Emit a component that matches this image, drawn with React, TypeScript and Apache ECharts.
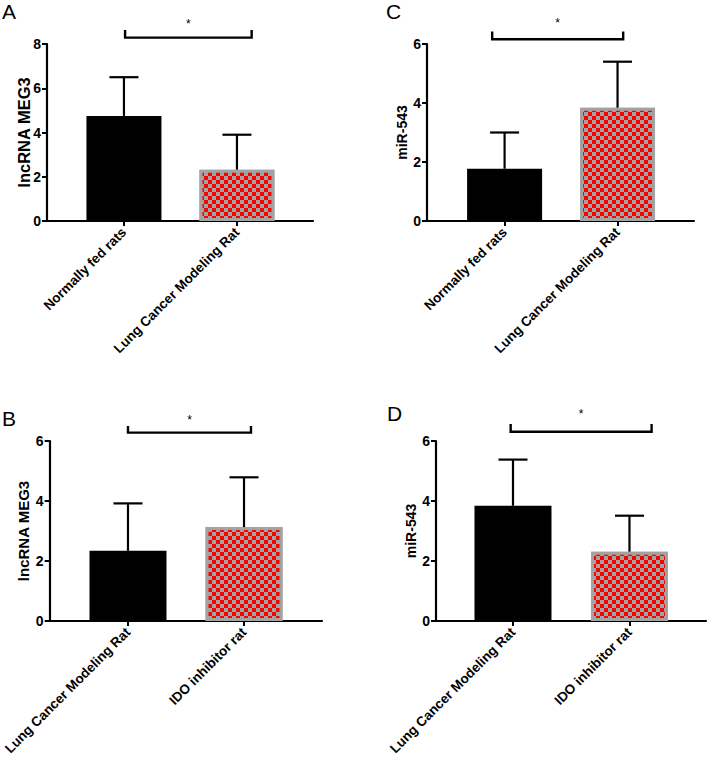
import React, { useEffect, useRef } from "react";
import * as echarts from "echarts";

// ---- data ----
const catsTop = ["Normally fed rats", "Lung Cancer Modeling Rat"];
const catsBottom = ["Lung Cancer Modeling Rat", "IDO inhibitor rat"];

const meg3A_mean = [4.75, 2.32];
const meg3A_sd = [1.75, 1.58];
const mirC_mean = [1.77, 3.84];
const mirC_sd = [1.23, 1.56];
const meg3B_mean = [2.34, 3.13];
const meg3B_sd = [1.58, 1.66];
const mirD_mean = [3.84, 2.31];
const mirD_sd = [1.54, 1.2];

const yTicksA = [0, 2, 4, 6, 8];
const yTicksOther = [0, 2, 4, 6];

// significance brackets: [x1, x2, yLine, yTop, yStar]
const sigA = [0.01, 1.13, 8.29, 8.63, 8.9];
const sigC = [-0.11, 1.05, 6.16, 6.42, 6.71];
const sigB = [0.0, 1.06, 6.28, 6.5, 6.71];
const sigD = [-0.02, 1.19, 6.31, 6.57, 6.91];

const FONT = "'Liberation Sans', Arial, Helvetica, sans-serif";

type Panel = {
  letter: string;
  letterPos: [number, number];
  grid: { left: number; top: number; width: number; height: number };
  xMin: number;
  xMax: number;
  cats: string[];
  mean: number[];
  sd: number[];
  yTicks: number[];
  yName: string;
  yNameSize: number;
  nameGap: number;
  barWidth: number;
  sig: number[];
};

const panels: Panel[] = [
  {
    letter: "A", letterPos: [2, 1],
    grid: { left: 47, top: 44, width: 266, height: 177 },
    xMin: -0.681, xMax: 1.673, cats: catsTop, mean: meg3A_mean, sd: meg3A_sd,
    yTicks: yTicksA, yName: "lncRNA MEG3", yNameSize: 16.5, nameGap: 15, barWidth: 75, sig: sigA,
  },
  {
    letter: "C", letterPos: [386, 1],
    grid: { left: 427, top: 44, width: 267, height: 177 },
    xMin: -0.687, xMax: 1.677, cats: catsTop, mean: mirC_mean, sd: mirC_sd,
    yTicks: yTicksOther, yName: "miR-543", yNameSize: 14, nameGap: 18, barWidth: 75, sig: sigC,
  },
  {
    letter: "B", letterPos: [2, 408],
    grid: { left: 49, top: 441, width: 273, height: 180 },
    xMin: -0.675, xMax: 1.672, cats: catsBottom, mean: meg3B_mean, sd: meg3B_sd,
    yTicks: yTicksOther, yName: "lncRNA MEG3", yNameSize: 15, nameGap: 19, barWidth: 77, sig: sigB,
  },
  {
    letter: "D", letterPos: [387, 403],
    grid: { left: 436, top: 441, width: 270, height: 180 },
    xMin: -0.661, xMax: 1.657, cats: catsBottom, mean: mirD_mean, sd: mirD_sd,
    yTicks: yTicksOther, yName: "miR-543", yNameSize: 14, nameGap: 18, barWidth: 77, sig: sigD,
  },
];

const checkerDecal = {
  symbol: "rect",
  symbolSize: 1,
  color: "#ff0000",
  dashArrayX: [[3.5, 3.5], [0, 3.5, 3.5, 0]],
  dashArrayY: [3.5, 0],
  rotation: 0,
};

function buildOption() {
  const grids: any[] = [];
  const xAxes: any[] = [];
  const yAxes: any[] = [];
  const series: any[] = [];
  const graphics: any[] = [];

  panels.forEach((p, i) => {
    grids.push({ ...p.grid, containLabel: false });
    const cats = p.cats;
    xAxes.push({
      type: "value",
      gridIndex: i,
      min: p.xMin,
      max: p.xMax,
      splitLine: { show: false },
      axisLine: { show: true, onZero: false, lineStyle: { color: "#000", width: 2.2 } },
      axisTick: { show: true, length: 5, lineStyle: { color: "#000", width: 2 }, customValues: [0, 1] },
      axisLabel: {
        show: true,
        customValues: [0, 1],
        rotate: 45,
        margin: 9,
        color: "#000",
        fontWeight: "bold",
        fontSize: 13.5,
        fontFamily: FONT,
        formatter: (v: number) => cats[Math.round(v)] ?? "",
      },
    });
    const yMax = p.yTicks[p.yTicks.length - 1];
    yAxes.push({
      type: "value",
      gridIndex: i,
      min: p.yTicks[0],
      max: yMax,
      interval: p.yTicks[1] - p.yTicks[0],
      splitLine: { show: false },
      axisLine: { show: true, onZero: false, lineStyle: { color: "#000", width: 2.2 } },
      axisTick: { show: true, length: 5, lineStyle: { color: "#000", width: 2 } },
      axisLabel: { color: "#000", fontWeight: "bold", fontSize: 14, fontFamily: FONT, margin: 6 },
      name: p.yName,
      nameLocation: "middle",
      nameGap: p.nameGap,
      nameMoveOverlap: false,
      nameTextStyle: { color: "#000", fontWeight: "bold", fontSize: p.yNameSize, fontFamily: FONT },
    });

    series.push({
      type: "bar",
      xAxisIndex: i,
      yAxisIndex: i,
      barWidth: p.barWidth,
      z: 2,
      data: p.mean.map((m, k) => ({
        value: [k, m],
        itemStyle:
          k === 0
            ? { color: "#000", borderColor: "#111", borderWidth: 0 }
            : { color: "#a3a3a3", borderColor: "#a3a3a3", borderWidth: 3, decal: checkerDecal },
      })),
    });

    series.push({
      type: "custom",
      xAxisIndex: i,
      yAxisIndex: i,
      z: 3,
      clip: false,
      data: p.mean.map((m, k) => [k, m, p.sd[k]]),
      renderItem: (params: any, api: any) => {
        const x = api.value(0);
        const m = api.value(1);
        const e = api.value(2);
        const p0 = api.coord([x, m]);
        const p1 = api.coord([x, m + e]);
        const half = 14.5;
        return {
          type: "group",
          children: [
            { type: "line", shape: { x1: p0[0], y1: p0[1], x2: p1[0], y2: p1[1] }, style: { stroke: "#000", lineWidth: 2.2 } },
            { type: "line", shape: { x1: p1[0] - half, y1: p1[1], x2: p1[0] + half, y2: p1[1] }, style: { stroke: "#000", lineWidth: 2.2 } },
          ],
        };
      },
    });

    series.push({
      type: "custom",
      xAxisIndex: i,
      yAxisIndex: i,
      z: 3,
      clip: false,
      data: [p.sig],
      renderItem: (params: any, api: any) => {
        const x1 = api.value(0);
        const x2 = api.value(1);
        const yl = api.value(2);
        const yt = api.value(3);
        const ys = api.value(4);
        const a = api.coord([x1, yt]);
        const b = api.coord([x1, yl]);
        const c = api.coord([x2, yl]);
        const d = api.coord([x2, yt]);
        const s = api.coord([(x1 + x2) / 2, ys]);
        return {
          type: "group",
          children: [
            {
              type: "polyline",
              shape: { points: [a, b, c, d] },
              style: { stroke: "#000", lineWidth: 2.4, fill: "none" },
            },
            {
              type: "text",
              x: s[0],
              y: s[1],
              style: { text: "*", fill: "#000", font: `12px ${FONT}`, align: "center", verticalAlign: "middle" },
            },
          ],
        };
      },
    });

    graphics.push({
      type: "text",
      left: p.letterPos[0],
      top: p.letterPos[1],
      style: { text: p.letter, fill: "#000", font: `21px ${FONT}` },
    });
  });

  return {
    animation: false,
    backgroundColor: "#fff",
    grid: grids,
    xAxis: xAxes,
    yAxis: yAxes,
    series,
    graphic: graphics,
  };
}

export default function App() {
  const ref = useRef<HTMLDivElement>(null);
  useEffect(() => {
    if (!ref.current) return;
    const chart = echarts.init(ref.current, undefined, { renderer: "svg" });
    chart.setOption(buildOption() as any);
    return () => chart.dispose();
  }, []);
  return (
    <div
      ref={ref}
      style={{ position: "absolute", left: 0, top: 0, width: 708, height: 760, background: "#fff" }}
    />
  );
}
